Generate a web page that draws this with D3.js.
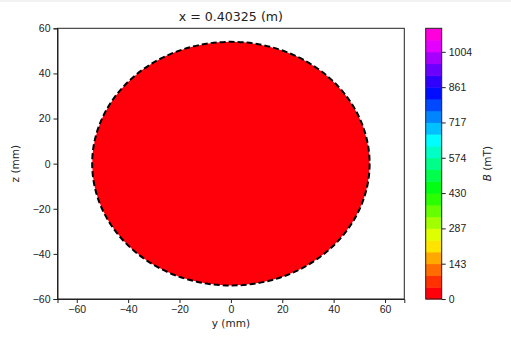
<!DOCTYPE html>
<html>
<head>
<meta charset="utf-8">
<script src="https://cdn.jsdelivr.net/npm/d3@7"></script>
<style>
  body { margin: 0; background: #fff; }
  svg { display: block; font-family: 'DejaVu Sans', sans-serif; }
  .tick text { font-size: 10.5px; fill: #222; }
  .tick line { stroke: #222; }
  .domain { stroke: #222; }
</style>
</head>
<body>
<div id="wrapper"></div>
<script>
// 1. Data
const title = 'x = 0.40325 (m)';
const yTicks = [-60, -40, -20, 0, 20, 40, 60];
const zTicks = [-60, -40, -20, 0, 20, 40, 60];
const yDomain = [-67.5, 67.5];
const zDomain = [-60, 60];
const boreRadius = [54]; // mm
const boreField = [10]; // mT, inside the bore
const levels = [0, 47.8, 95.6, 143.5, 191.3, 239.1, 286.9, 334.7, 382.6, 430.4, 478.2, 526.0,
  573.8, 621.6, 669.5, 717.3, 765.1, 812.9, 860.7, 908.5, 956.4, 1004.2, 1052.0, 1099.8];
const cbarTicks = [0, 143.45, 286.9, 430.35, 573.8, 717.25, 860.7, 1004.15];
const cbarLabels = ['0', '143', '287', '430', '574', '717', '861', '1004'];

// gist_rainbow colormap stops
const rainbowStops = [0, 0.03, 0.215, 0.4, 0.586, 0.77, 0.954, 1];
const rainbowColors = ['rgb(255,0,41)', 'rgb(255,0,0)', 'rgb(255,255,0)', 'rgb(0,255,0)',
  'rgb(0,255,255)', 'rgb(0,0,255)', 'rgb(255,0,255)', 'rgb(255,0,191)'];

// 2. Dimensions
const width = 511;
const height = 339;
const plot = { left: 57.5, right: 404.3, top: 28.3, bottom: 299 };
const cbar = { left: 425.7, right: 441.7, top: 28.3, bottom: 299 };

// 3. Canvas
const svg = d3.select('#wrapper').append('svg')
  .attr('width', width).attr('height', height);
svg.append('rect').attr('width', width).attr('height', height).attr('fill', '#fff');
svg.append('rect').attr('width', width).attr('height', 2).attr('fill', '#f2f2f2');

// 4. Scales
const xScale = d3.scaleLinear().domain(yDomain).range([plot.left, plot.right]);
const yScale = d3.scaleLinear().domain(zDomain).range([plot.bottom, plot.top]);
const cmap = d3.scaleLinear().domain(rainbowStops).range(rainbowColors)
  .interpolate(d3.interpolateRgb);
const bandColor = (v) => {
  const n = levels.length - 1;
  let i = d3.bisectRight(levels, v) - 1;
  i = Math.max(0, Math.min(n - 1, i));
  return cmap((i + 0.5) / n);
};
const cScale = d3.scaleLinear()
  .domain([levels[0], levels[levels.length - 1]])
  .range([cbar.bottom, cbar.top]);

// 5. Draw data
const r = boreRadius[0];
svg.append('ellipse')
  .attr('cx', xScale(0)).attr('cy', yScale(0))
  .attr('rx', xScale(r) - xScale(0)).attr('ry', yScale(0) - yScale(r))
  .attr('fill', bandColor(boreField[0]));
svg.append('ellipse')
  .attr('cx', xScale(0)).attr('cy', yScale(0))
  .attr('rx', xScale(r) - xScale(0)).attr('ry', yScale(0) - yScale(r))
  .attr('fill', 'none').attr('stroke', '#000')
  .attr('stroke-width', 2).attr('stroke-dasharray', '6,3');

// 6. Axes
svg.append('rect')
  .attr('x', plot.left).attr('y', plot.top)
  .attr('width', plot.right - plot.left).attr('height', plot.bottom - plot.top)
  .attr('fill', 'none').attr('stroke', '#222').attr('stroke-width', 1);

const fmt = (d) => (d < 0 ? '\u2212' + Math.abs(d) : '' + d);
svg.append('g')
  .attr('transform', `translate(0,${plot.bottom})`)
  .call(d3.axisBottom(xScale).tickValues(yTicks).tickFormat(fmt).tickSizeOuter(0).tickSize(4).tickPadding(3));
svg.append('g')
  .attr('transform', `translate(${plot.left},0)`)
  .call(d3.axisLeft(yScale).tickValues(zTicks).tickFormat(fmt).tickSizeOuter(0).tickSize(4).tickPadding(3));

svg.append('text')
  .attr('x', (plot.left + plot.right) / 2).attr('y', 327)
  .attr('text-anchor', 'middle').attr('font-size', 10.5).attr('fill', '#222')
  .text('y (mm)');
svg.append('text')
  .attr('transform', `translate(19,${(plot.top + plot.bottom) / 2}) rotate(-90)`)
  .attr('text-anchor', 'middle').attr('font-size', 10.5).attr('fill', '#222')
  .text('z (mm)');
svg.append('text')
  .attr('x', (plot.left + plot.right) / 2).attr('y', 21)
  .attr('text-anchor', 'middle').attr('font-size', 12.6).attr('fill', '#222')
  .text(title);

// 7. Colorbar
const bands = d3.range(levels.length - 1);
svg.append('g').selectAll('rect')
  .data(bands)
  .join('rect')
  .attr('x', cbar.left)
  .attr('width', cbar.right - cbar.left)
  .attr('y', (i) => cScale(levels[i + 1]))
  .attr('height', (i) => cScale(levels[i]) - cScale(levels[i + 1]) + 0.5)
  .attr('fill', (i) => bandColor((levels[i] + levels[i + 1]) / 2));
svg.append('rect')
  .attr('x', cbar.left).attr('y', cbar.top)
  .attr('width', cbar.right - cbar.left).attr('height', cbar.bottom - cbar.top)
  .attr('fill', 'none').attr('stroke', '#222').attr('stroke-width', 1);
const cAxis = svg.append('g')
  .attr('transform', `translate(${cbar.right},0)`)
  .call(d3.axisRight(cScale).tickValues(cbarTicks)
    .tickFormat((d, i) => cbarLabels[i]).tickSizeOuter(0).tickSize(4).tickPadding(3));
cAxis.select('.domain').remove();

const bLabel = svg.append('text')
  .attr('transform', `translate(491,${(cbar.top + cbar.bottom) / 2}) rotate(-90)`)
  .attr('text-anchor', 'middle').attr('font-size', 10.5).attr('fill', '#222');
bLabel.append('tspan').attr('font-style', 'italic').text('B');
bLabel.append('tspan').text(' (mT)');
</script>
</body>
</html>
